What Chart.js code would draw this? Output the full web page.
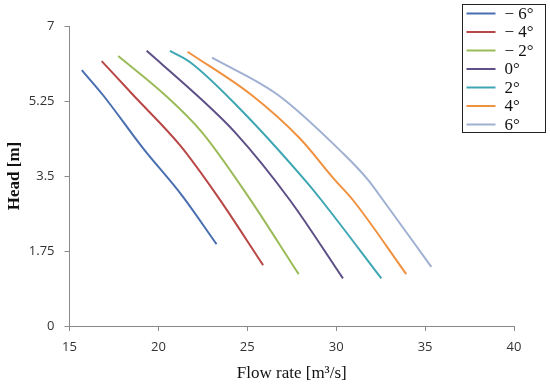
<!DOCTYPE html>
<html>
<head>
<meta charset="utf-8">
<script src="https://cdn.jsdelivr.net/npm/chart.js@4.4.1/dist/chart.umd.min.js"></script>
<style>
html,body{margin:0;padding:0;background:#fff;}
</style>
</head>
<body>
<canvas id="c" width="550" height="387"></canvas>
<script>
const seriesLabels = ["\u2212 6\u00b0","\u2212 4\u00b0","\u2212 2\u00b0","0\u00b0","2\u00b0","4\u00b0","6\u00b0"];
const seriesColors = ["#4a6fb0","#b84746","#9bbb59","#5e4f86","#3ea6b3","#f0913f","#9fb0d2"];
const flowM6 = [15.69,16.88,19.13,21.30,23.27];
const headM6 = [5.97,5.39,4.15,3.06,1.91];
const flowM4 = [16.81,18.58,21.21,23.27,25.89];
const headM4 = [6.18,5.39,4.22,3.06,1.42];
const flowM2 = [17.74,20.37,22.43,24.99,27.89];
const headM2 = [6.30,5.39,4.53,3.06,1.21];
const flow0 = [19.34,22.15,24.35,27.39,30.38];
const head0 = [6.42,5.39,4.50,2.94,1.11];
const flowP2 = [20.65,21.77,24.58,28.23,29.16,32.54];
const headP2 = [6.42,6.16,5.07,3.41,2.94,1.11];
const flowP4 = [21.64,25.24,27.95,29.92,30.94,33.94];
const headP4 = [6.40,5.39,4.38,3.41,2.94,1.21];
const flowP6 = [23.02,26.73,30.38,31.79,32.63,35.35];
const headP6 = [6.26,5.39,4.03,3.41,2.94,1.38];
const xTicks = [15,20,25,30,35,40];
const yTicks = [0,1.75,3.5,5.25,7];

const flows = [flowM6,flowM4,flowM2,flow0,flowP2,flowP4,flowP6];
const heads = [headM6,headM4,headM2,head0,headP2,headP4,headP6];

const datasets = seriesLabels.map((lab,i)=>({
  label: lab,
  data: flows[i].map((x,j)=>({x:x,y:heads[i][j]})),
  borderColor: seriesColors[i],
  backgroundColor: seriesColors[i],
  borderWidth: 2,
  pointRadius: 0,
  showLine: true,
  cubicInterpolationMode: 'monotone',
  fill: false
}));

const boxLegend = {
  id: 'boxLegend',
  afterDraw(chart) {
    const ctx = chart.ctx;
    const bx = 462.5, by = 4.5, bw = 83, bh = 128, rowH = 18.5;
    ctx.save();
    ctx.fillStyle = '#fff';
    ctx.fillRect(bx, by, bw, bh);
    ctx.strokeStyle = '#222';
    ctx.lineWidth = 1;
    ctx.strokeRect(bx, by, bw, bh);
    ctx.font = '17px "Liberation Serif", "DejaVu Serif", serif';
    ctx.textBaseline = 'middle';
    ctx.textAlign = 'left';
    chart.data.datasets.forEach((d, i) => {
      const cy = by + 9 + i * rowH;
      ctx.strokeStyle = d.borderColor;
      ctx.lineWidth = 2;
      ctx.beginPath();
      ctx.moveTo(bx + 4, cy);
      ctx.lineTo(bx + 33, cy);
      ctx.stroke();
      ctx.fillStyle = '#111';
      ctx.fillText(d.label, bx + 42, cy + 1);
    });
    ctx.restore();
  }
};

new Chart(document.getElementById('c'), {
  type: 'scatter',
  data: { datasets },
  plugins: [boxLegend],
  options: {
    responsive: false,
    animation: false,
    layout: { padding: { left: 4, right: 36, top: 26, bottom: 0 } },
    plugins: { legend: { display: false }, tooltip: { enabled: false } },
    scales: {
      x: {
        type: 'linear', min: 15, max: 40,
        afterBuildTicks: s => { s.ticks = xTicks.map(v=>({value:v})); },
        afterFit: s => { s.height = 61; },
        grid: { drawOnChartArea: false, drawTicks: true, tickLength: 5, color: '#8a8a8a' },
        border: { color: '#8a8a8a', width: 1 },
        ticks: { color: '#333', font: { family: 'Open Sans, sans-serif', size: 13 }, padding: 8 },
        title: { display: true, text: 'Flow rate [m\u00b3/s]', color: '#111', font: { family: '"Liberation Serif", "DejaVu Serif", serif', size: 17 }, padding: { top: 0, bottom: 3 } }
      },
      y: {
        type: 'linear', min: 0, max: 7,
        afterBuildTicks: s => { s.ticks = yTicks.map(v=>({value:v})); },
        afterFit: s => { s.width = 65.5; },
        grid: { drawOnChartArea: false, drawTicks: true, tickLength: 5, color: '#8a8a8a' },
        border: { color: '#8a8a8a', width: 1 },
        ticks: { color: '#333', font: { family: 'Open Sans, sans-serif', size: 13 }, padding: 10, callback: v => String(v) },
        title: { display: true, text: 'Head [m]', color: '#111', font: { family: '"Liberation Serif", "DejaVu Serif", serif', size: 17, weight: 'bold' }, padding: { top: 0, bottom: 0 } }
      }
    }
  }
});
</script>
</body>
</html>
